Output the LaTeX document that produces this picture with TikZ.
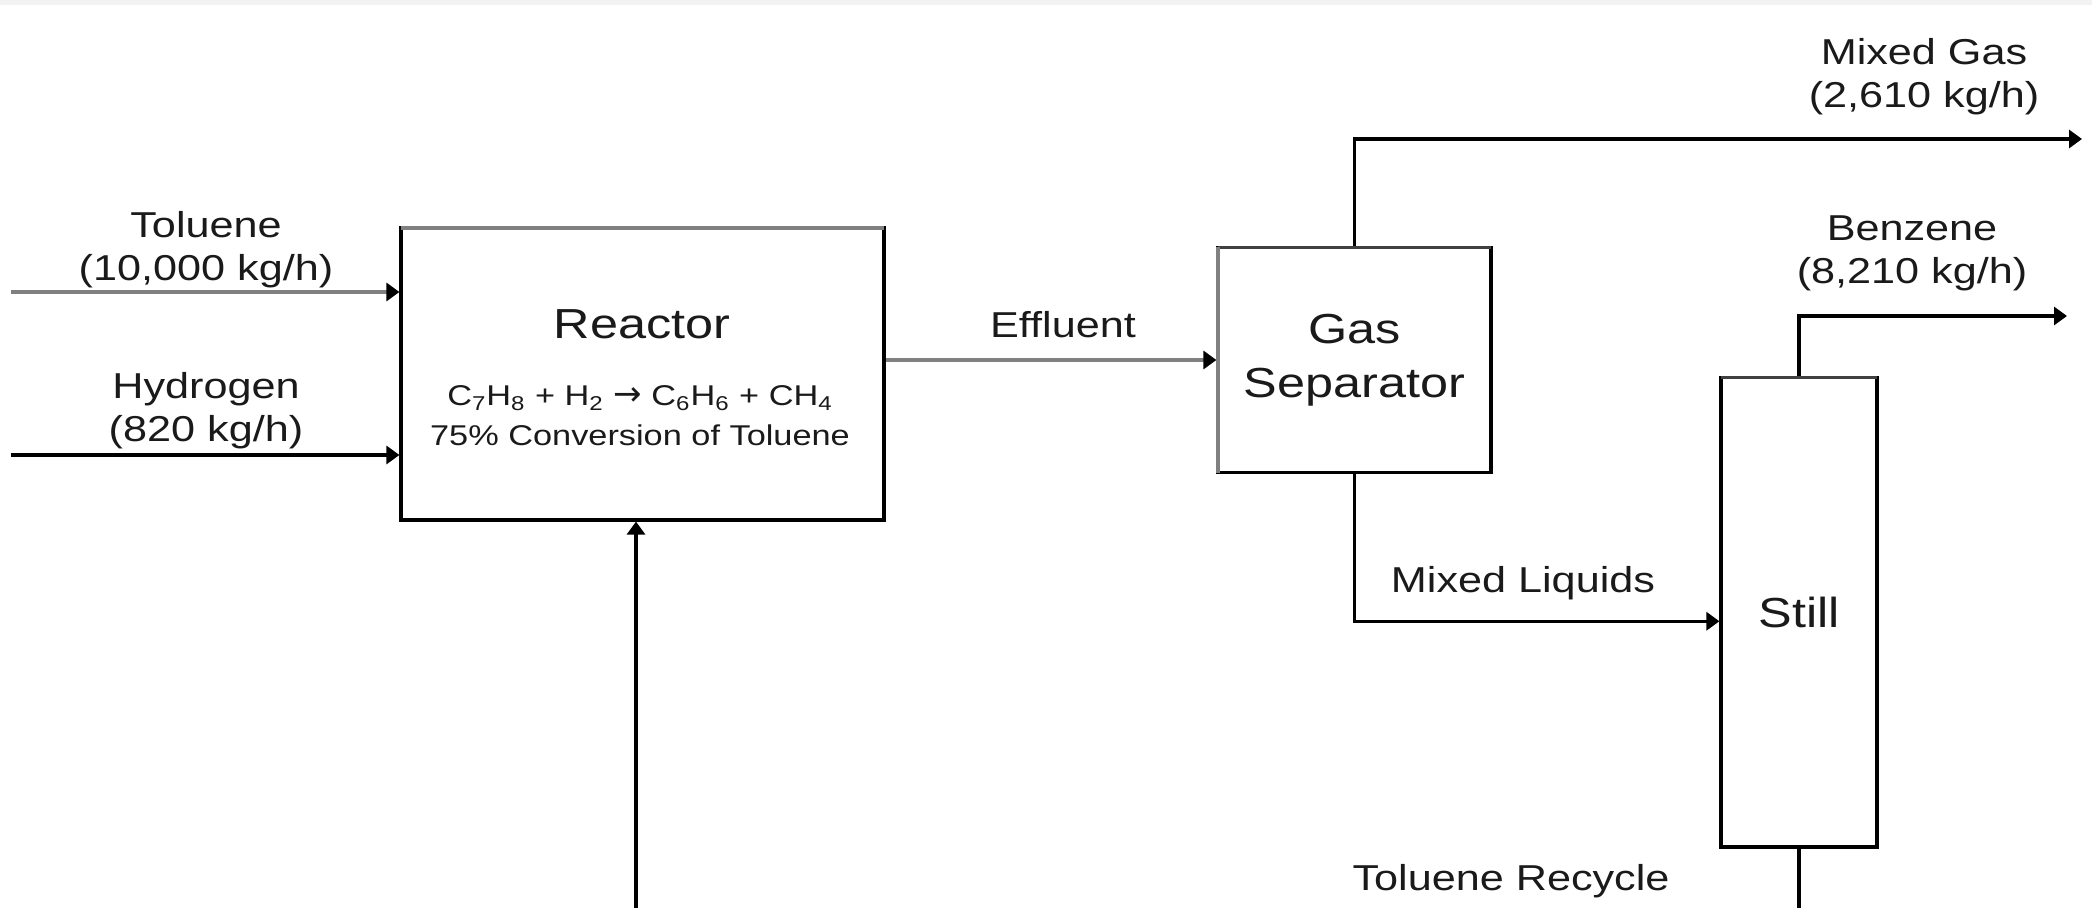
\documentclass[tikz,border=0pt]{standalone}
\usepackage{fontspec}
\setmainfont{Liberation Sans}[FakeStretch=1.2]
\newfontfamily\arrowfont{DejaVu Sans}
\usetikzlibrary{arrows.meta,calc}
\definecolor{lgray}{HTML}{808080}
\definecolor{dgray}{HTML}{404040}
\definecolor{txt}{HTML}{1A1A1A}
\definecolor{strip}{HTML}{F2F2F2}
\tikzset{
  unitbox/.style={draw=black, line width=1.6pt, fill=white, inner sep=0pt, align=center, text=txt,
    font=\fontsize{21}{27}\selectfont},
  flow/.style={draw=black, line width=1.6pt, -{Triangle[length=6.5pt,width=9pt,color=black]}},
  gflow/.style={flow, draw=lgray},
  plain/.style={draw=black, line width=1.6pt},
  lbl/.style={align=center, inner sep=0pt, text=txt, font=\fontsize{18}{21.5}\selectfont},
  eqn/.style={inner sep=0pt, text=txt, font=\fontsize{14.3}{18}\selectfont},
  heading/.style={inner sep=0pt, text=txt, font=\fontsize{21}{27}\selectfont}
}
\begin{document}
\begin{tikzpicture}[x=0.5pt,y=-0.5pt]
\useasboundingbox (0,0) rectangle (2092,908);
\fill[strip] (0,0) rectangle (2092,5);

% units
\node[unitbox, minimum width=241.5pt, minimum height=146pt] (reactor) at (642.5,374) {};
\node[unitbox, minimum width=136.5pt, minimum height=112.75pt] (sep) at (1354.5,360) {Gas\\Separator};
\node[unitbox, minimum width=78pt, minimum height=234.75pt] (still) at (1799,612.25) {Still};

% edge shading as in the reference
\draw[lgray, line width=1.6pt] ($(reactor.north west)+(1.6,1.6)$) -- ($(reactor.north east)+(-1.6,1.6)$);
\draw[dgray, line width=1.6pt] ($(sep.north west)+(1.6,1.6)$) -- ($(sep.north east)+(-1.6,1.6)$);
\draw[lgray, line width=1.6pt] ($(sep.north west)+(1.6,1.6)$) -- ($(sep.south west)+(1.6,-1.6)$);
\draw[dgray, line width=1.6pt] ($(still.north west)+(1.6,1.6)$) -- ($(still.north east)+(-1.6,1.6)$);

% reactor texts
\node[heading] (rtitle) at (642,324) {Reactor};
\node[eqn] (reqn) at (640,398) {C\textsubscript{7}H\textsubscript{8} + H\textsubscript{2} {\arrowfont\fontsize{17}{18}\selectfont →} C\textsubscript{6}H\textsubscript{6} + CH\textsubscript{4}};
\node[eqn] (rconv) at (640,435) {75\% Conversion of Toluene};

% free ends
\coordinate (tolin) at (11,292);
\coordinate (h2in) at (11,455);
\coordinate (mgout) at (2082,139);
\coordinate (bzout) at (2067,316);
\coordinate (recbot) at (636,914);

% streams
\draw[gflow] (tolin) -- (reactor.west |- tolin);
\draw[flow] (h2in) -- (reactor.west |- h2in);
\draw[gflow] (reactor.east |- sep.west) -- (sep.west);
\draw[flow] (sep.north) |- (mgout);
\draw[flow] (still.north) |- (bzout);
\draw[flow] (sep.south) |- ($(still.west)+(0,9)$);
\draw[plain] (still.south) -- (still.south |- recbot);
\draw[flow] (recbot) -- (recbot |- reactor.south);

% labels
\node[lbl] (ltol) at (206,250) {Toluene\\(10,000 kg/h)};
\node[lbl] (lh2) at (206,411) {Hydrogen\\(820 kg/h)};
\node[lbl] (leff) at (1063,325) {Effluent};
\node[lbl] (lmg) at (1924,77) {Mixed Gas\\(2,610 kg/h)};
\node[lbl] (lbz) at (1912,253) {Benzene\\(8,210 kg/h)};
\node[lbl] (lml) at (1523,583) {Mixed Liquids};
\node[lbl] (ltr) at (1511,881) {Toluene Recycle};
\end{tikzpicture}
\end{document}
